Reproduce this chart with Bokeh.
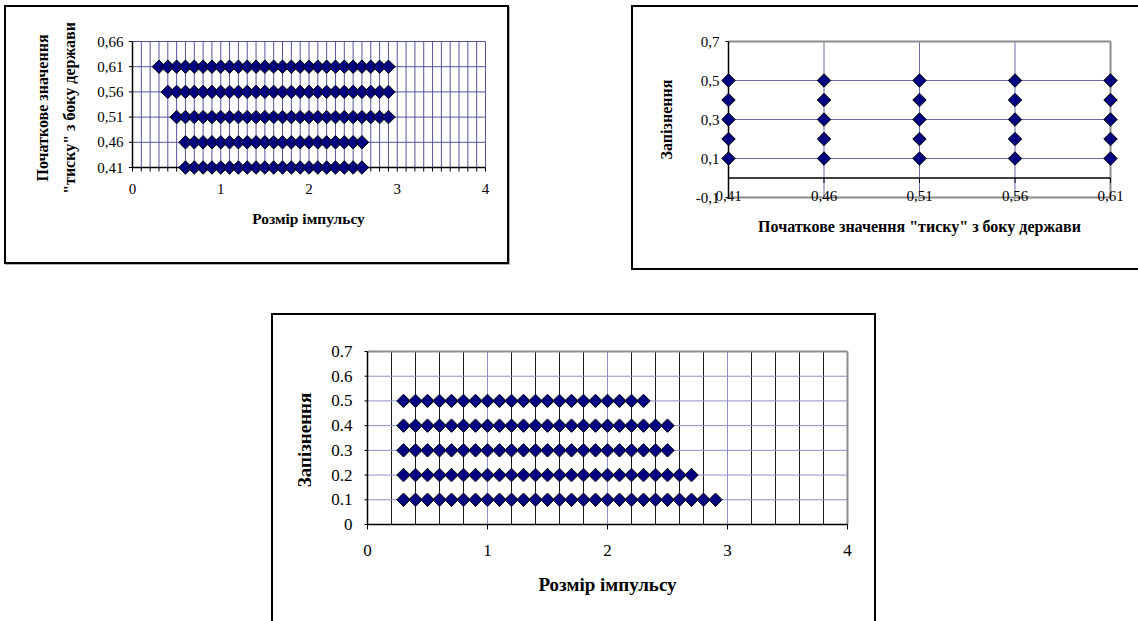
import math
from bokeh.plotting import figure
from bokeh.models import Range1d, FixedTicker, CustomJSTickFormatter, LinearAxis, Spacer
from bokeh.layouts import row, column
from bokeh.embed import file_html
from bokeh.resources import INLINE

# ---------------- data ----------------
# Chart 1 (top left)
c1_x_title = "Розмір імпульсу"
c1_y_title_outer = "Початкове значення"
c1_y_title_inner = "\"тиску\" з боку держави"
c1_x_ticks = [0, 1, 2, 3, 4]
c1_y_ticks = [0.41, 0.46, 0.51, 0.56, 0.61, 0.66]
c1_levels = [0.61, 0.56, 0.51, 0.46, 0.41]
c1_x_061 = [0.3, 0.4, 0.5, 0.6, 0.7, 0.8, 0.9, 1.0, 1.1, 1.2, 1.3, 1.4, 1.5, 1.6, 1.7,
            1.8, 1.9, 2.0, 2.1, 2.2, 2.3, 2.4, 2.5, 2.6, 2.7, 2.8, 2.9]
c1_x_056 = [0.4, 0.5, 0.6, 0.7, 0.8, 0.9, 1.0, 1.1, 1.2, 1.3, 1.4, 1.5, 1.6, 1.7,
            1.8, 1.9, 2.0, 2.1, 2.2, 2.3, 2.4, 2.5, 2.6, 2.7, 2.8, 2.9]
c1_x_051 = [0.5, 0.6, 0.7, 0.8, 0.9, 1.0, 1.1, 1.2, 1.3, 1.4, 1.5, 1.6, 1.7,
            1.8, 1.9, 2.0, 2.1, 2.2, 2.3, 2.4, 2.5, 2.6, 2.7, 2.8, 2.9]
c1_x_046 = [0.6, 0.7, 0.8, 0.9, 1.0, 1.1, 1.2, 1.3, 1.4, 1.5, 1.6, 1.7,
            1.8, 1.9, 2.0, 2.1, 2.2, 2.3, 2.4, 2.5, 2.6]
c1_x_041 = [0.6, 0.7, 0.8, 0.9, 1.0, 1.1, 1.2, 1.3, 1.4, 1.5, 1.6, 1.7,
            1.8, 1.9, 2.0, 2.1, 2.2, 2.3, 2.4, 2.5, 2.6]
c1_series = [c1_x_061, c1_x_056, c1_x_051, c1_x_046, c1_x_041]

# Chart 2 (top right)
c2_x_title = "Початкове значення \"тиску\" з боку держави"
c2_y_title = "Запізнення"
c2_categories = [0.41, 0.46, 0.51, 0.56, 0.61]
c2_y_ticks = [-0.1, 0.1, 0.3, 0.5, 0.7]
c2_delays = [0.1, 0.2, 0.3, 0.4, 0.5]

# Chart 3 (bottom)
c3_x_title = "Розмір імпульсу"
c3_y_title = "Запізнення"
c3_x_ticks = [0, 1, 2, 3, 4]
c3_y_ticks = [0, 0.1, 0.2, 0.3, 0.4, 0.5, 0.6, 0.7]
c3_levels = [0.5, 0.4, 0.3, 0.2, 0.1]
c3_x_05 = [0.3, 0.4, 0.5, 0.6, 0.7, 0.8, 0.9, 1.0, 1.1, 1.2, 1.3, 1.4, 1.5, 1.6, 1.7,
           1.8, 1.9, 2.0, 2.1, 2.2, 2.3]
c3_x_04 = [0.3, 0.4, 0.5, 0.6, 0.7, 0.8, 0.9, 1.0, 1.1, 1.2, 1.3, 1.4, 1.5, 1.6, 1.7,
           1.8, 1.9, 2.0, 2.1, 2.2, 2.3, 2.4, 2.5]
c3_x_03 = [0.3, 0.4, 0.5, 0.6, 0.7, 0.8, 0.9, 1.0, 1.1, 1.2, 1.3, 1.4, 1.5, 1.6, 1.7,
           1.8, 1.9, 2.0, 2.1, 2.2, 2.3, 2.4, 2.5]
c3_x_02 = [0.3, 0.4, 0.5, 0.6, 0.7, 0.8, 0.9, 1.0, 1.1, 1.2, 1.3, 1.4, 1.5, 1.6, 1.7,
           1.8, 1.9, 2.0, 2.1, 2.2, 2.3, 2.4, 2.5, 2.6, 2.7]
c3_x_01 = [0.3, 0.4, 0.5, 0.6, 0.7, 0.8, 0.9, 1.0, 1.1, 1.2, 1.3, 1.4, 1.5, 1.6, 1.7,
           1.8, 1.9, 2.0, 2.1, 2.2, 2.3, 2.4, 2.5, 2.6, 2.7, 2.8, 2.9]
c3_series = [c3_x_05, c3_x_04, c3_x_03, c3_x_02, c3_x_01]

# ---------------- style ----------------
SERIF = "Liberation Serif"
NAVY = "#000080"
GRID_BLUE = "#55559c"
GRID_LAV = "#8e8ec6"
BORDER_GRAY = "#8c8c8c"
MARKER_SIZE = 9.5


def comma_fmt(decimals):
    return CustomJSTickFormatter(
        code="return tick.toFixed(%d).replace('.', ',');" % decimals)


def make_fig(frame_w, frame_h, mb, xr, yr, css):
    p = figure(frame_width=frame_w, frame_height=frame_h,
               min_border_left=mb[0], min_border_top=mb[1],
               min_border_right=mb[2], min_border_bottom=mb[3],
               x_range=Range1d(*xr), y_range=Range1d(*yr),
               output_backend="svg", toolbar_location=None, tools="")
    p.grid.visible = False
    p.outline_line_color = None
    p.border_fill_color = None
    p.background_fill_color = "white"
    p.styles = {"box-shadow": css}
    for ax in (p.xaxis[0], p.yaxis[0]):
        ax.axis_line_color = None
        ax.major_tick_line_color = None
        ax.minor_tick_line_color = None
        ax.major_tick_in = 0
        ax.major_tick_out = 0
        ax.major_label_text_font = SERIF
        ax.major_label_text_color = "black"
        ax.axis_label_text_font = SERIF
        ax.axis_label_text_font_style = "bold"
        ax.axis_label_text_color = "black"
    return p


def hlines(p, ys, x0, x1, color, width):
    p.segment(x0=[x0] * len(ys), y0=ys, x1=[x1] * len(ys), y1=ys,
              line_color=color, line_width=width)


def vlines(p, xs, y0, y1, color, width):
    p.segment(x0=xs, y0=[y0] * len(xs), x1=xs, y1=[y1] * len(xs),
              line_color=color, line_width=width)


def diamonds(p, xs, ys):
    p.scatter(xs, ys, marker="square", angle=math.pi / 4, size=MARKER_SIZE,
              fill_color=NAVY, line_color="black", line_width=1)


# ================= Chart 1 (top left) =================
kx1 = 88.25   # px per x unit
ky1 = 504.0   # px per y unit
x1_lo, x1_hi = c1_x_ticks[0], c1_x_ticks[-1]
y1_lo, y1_hi = c1_y_ticks[0], c1_y_ticks[-1]
p1 = make_fig(360, 139, (124, 33, 21, 87),
              (x1_lo - 4 / kx1, x1_hi + 3 / kx1),
              (y1_lo - 10 / ky1, y1_hi + 3 / ky1),
              "inset 0 0 0 2px black, 1px 1px 0 0 #b0b0b0")
grid_x1 = [i / 10 for i in range(1, 41)]
vlines(p1, grid_x1, y1_lo, y1_hi, GRID_BLUE, 1)
hlines(p1, c1_y_ticks[1:], x1_lo, x1_hi, GRID_BLUE, 1)
# axes
hlines(p1, [y1_lo], x1_lo, x1_hi, "black", 1.5)
vlines(p1, [x1_lo], y1_lo, y1_hi, "black", 1.5)
tick_x1 = [i / 10 for i in range(0, 41)]
vlines(p1, tick_x1, y1_lo, y1_lo - 4 / ky1, "black", 1)
hlines(p1, c1_y_ticks, x1_lo - 4 / kx1, x1_lo, "black", 1)
for yv, xs in zip(c1_levels, c1_series):
    diamonds(p1, xs, [yv] * len(xs))

p1.xaxis.ticker = FixedTicker(ticks=c1_x_ticks)
p1.xaxis.major_label_standoff = 6
p1.xaxis.major_label_text_font_size = "15px"
p1.xaxis.axis_label = c1_x_title
p1.xaxis.axis_label_text_font_size = "15.5px"
p1.xaxis.axis_label_standoff = 13
p1.yaxis.ticker = FixedTicker(ticks=c1_y_ticks)
p1.yaxis.formatter = comma_fmt(2)
p1.yaxis.major_label_standoff = 5
p1.yaxis.major_label_text_font_size = "15px"
p1.yaxis.axis_label = c1_y_title_inner
p1.yaxis.axis_label_text_font_size = "16px"
p1.yaxis.axis_label_standoff = 16
outer = LinearAxis(ticker=FixedTicker(ticks=[]), axis_label=c1_y_title_outer,
                   axis_line_color=None, major_tick_line_color=None,
                   minor_tick_line_color=None, major_tick_out=0, major_tick_in=0,
                   major_label_standoff=0, axis_label_standoff=8,
                   axis_label_text_font=SERIF, axis_label_text_font_style="bold",
                   axis_label_text_font_size="16px", axis_label_text_color="black")
p1.add_layout(outer, "left")

# ================= Chart 2 (top right) =================
kx2 = 1910.0
ky2 = 195.0
x2_lo, x2_hi = c2_categories[0], c2_categories[-1]
y2_lo, y2_hi = c2_y_ticks[0], c2_y_ticks[-1]
p2 = make_fig(400, 162, (88, 32, 19, 71),
              (x2_lo - 9 / kx2, x2_hi + 9 / kx2),
              (y2_lo - 3 / ky2, y2_hi + 3 / ky2),
              "inset 2px 0 0 0 black, inset 0 2px 0 0 black, inset 0 -2px 0 0 black")
vlines(p2, c2_categories[1:-1], y2_lo, y2_hi, "#6b6ba6", 1)
hlines(p2, [0.1, 0.3, 0.5], x2_lo, x2_hi, "#6b6ba6", 1)
# plot-area border (gray)
hlines(p2, [y2_lo, y2_hi], x2_lo, x2_hi, BORDER_GRAY, 2)
vlines(p2, [x2_hi], y2_lo, y2_hi, BORDER_GRAY, 2)
# axes
vlines(p2, [x2_lo], y2_lo, y2_hi, "black", 1.5)
hlines(p2, [0], x2_lo, x2_hi, "black", 1.5)
vlines(p2, c2_categories, 0, -5 / ky2, "black", 1)
hlines(p2, c2_y_ticks, x2_lo - 3 / kx2, x2_lo, "black", 1)
for xc in c2_categories:
    diamonds(p2, [xc] * len(c2_delays), c2_delays)

p2.xaxis.ticker = FixedTicker(ticks=c2_categories)
p2.xaxis.formatter = comma_fmt(2)
p2.xaxis.major_label_standoff = -10
p2.xaxis.major_label_text_font_size = "15px"
p2.xaxis.axis_label = c2_x_title
p2.xaxis.axis_label_text_font_size = "16px"
p2.xaxis.axis_label_standoff = 14
p2.yaxis.ticker = FixedTicker(ticks=c2_y_ticks)
p2.yaxis.formatter = comma_fmt(1)
p2.yaxis.major_label_standoff = 0
p2.yaxis.major_label_text_font_size = "15px"
p2.yaxis.axis_label = c2_y_title
p2.yaxis.axis_label_text_font_size = "16px"
p2.yaxis.axis_label_standoff = 18

# ================= Chart 3 (bottom) =================
kx3 = 120.0
ky3 = 173.0 / 0.7
x3_lo, x3_hi = c3_x_ticks[0], c3_x_ticks[-1]
y3_lo, y3_hi = c3_y_ticks[0], c3_y_ticks[-1]
p3 = make_fig(486, 183, (93, 35, 26, 90),
              (x3_lo - 3 / kx3, x3_hi + 3 / kx3),
              (y3_lo - 7 / ky3, y3_hi + 3 / ky3),
              "inset 2px 0 0 0 black, inset 0 2px 0 0 black, inset -2px 0 0 0 black")
grid_x3 = [round(i * 0.2, 1) for i in range(1, 20)]
vlines(p3, [g for g in grid_x3 if g != int(g)], y3_lo, y3_hi, "#1a1a1a", 1)
vlines(p3, [g for g in grid_x3 if g == int(g)], y3_lo, y3_hi, GRID_LAV, 1)
hlines(p3, c3_y_ticks[1:-1], x3_lo, x3_hi, GRID_LAV, 1)
hlines(p3, [y3_hi], x3_lo, x3_hi, BORDER_GRAY, 2)
vlines(p3, [x3_hi], y3_lo, y3_hi, BORDER_GRAY, 2)
hlines(p3, [y3_lo], x3_lo, x3_hi, "black", 1.5)
vlines(p3, [x3_lo], y3_lo, y3_hi, "black", 1.5)
vlines(p3, c3_x_ticks, y3_lo, y3_lo - 5 / ky3, "black", 1)
hlines(p3, c3_y_ticks, x3_lo - 5 / kx3, x3_lo, "black", 1)
for yv, xs in zip(c3_levels, c3_series):
    diamonds(p3, xs, [yv] * len(xs))

p3.xaxis.ticker = FixedTicker(ticks=c3_x_ticks)
p3.xaxis.major_label_standoff = 13
p3.xaxis.major_label_text_font_size = "17px"
p3.xaxis.axis_label = c3_x_title
p3.xaxis.axis_label_text_font_size = "19px"
p3.xaxis.axis_label_standoff = 15
p3.yaxis.ticker = FixedTicker(ticks=c3_y_ticks)
p3.yaxis.formatter = CustomJSTickFormatter(
    code="return tick === 0 ? '0' : tick.toFixed(1);")
p3.yaxis.major_label_standoff = 12
p3.yaxis.major_label_text_font_size = "17px"
p3.yaxis.axis_label = c3_y_title
p3.yaxis.axis_label_text_font_size = "19px"
p3.yaxis.axis_label_standoff = 13

# ================= layout =================
top = row(Spacer(width=4, height=10), p1, Spacer(width=122, height=10), p2)
bottom = row(Spacer(width=271, height=10), p3)
layout = column(Spacer(width=10, height=5), top, Spacer(width=10, height=43), bottom)

open("out.html", "w").write(file_html(layout, INLINE))
